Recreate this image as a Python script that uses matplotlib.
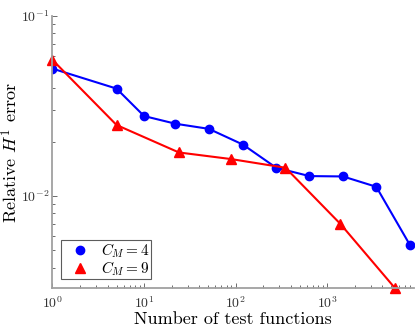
import matplotlib
matplotlib.use("Agg")
import matplotlib.pyplot as plt
from matplotlib.ticker import LogLocator, FuncFormatter, NullFormatter
import numpy as np

plt.rcParams['mathtext.fontset'] = 'cm'
plt.rcParams['axes.formatter.use_mathtext'] = True

# data
n_cm4 = [1, 5, 10, 22, 51, 120, 277, 638, 1486, 3430, 7980]
err_cm4 = [0.0510, 0.0395, 0.0278, 0.0252, 0.0236, 0.0193, 0.01435, 0.0129, 0.01284, 0.01125, 0.00535]

n_cm9 = [1, 5, 24, 88, 350, 1390, 5480]
err_cm9 = [0.0570, 0.0248, 0.01745, 0.01605, 0.01435, 0.00700, 0.00308]

labels = [r'$C_M = 4$', r'$C_M = 9$']

fig = plt.figure(figsize=(4.15, 3.26), dpi=100)
ax = fig.add_axes([0.1265, 0.1156, 0.8705, 0.8354])

ax.plot(n_cm4, err_cm4, '-o', color='#0000ff', lw=1.5, ms=6, label=labels[0])
ax.plot(n_cm9, err_cm9, '-^', color='#ff0000', lw=1.5, ms=6.5, label=labels[1], clip_on=False)
ax.set_xscale('log')
ax.set_yscale('log')
ax.set_xlim(1, 8800)
ax.set_ylim(3.07e-3, 0.1)

grey = '#a0a0a0'
for s in ['top', 'right']:
    ax.spines[s].set_visible(False)
for s in ['left', 'bottom']:
    ax.spines[s].set_color(grey)
    ax.spines[s].set_linewidth(1.3)

ax.xaxis.set_major_locator(LogLocator(base=10, numticks=10))
ax.yaxis.set_major_locator(LogLocator(base=10, numticks=10))
ax.xaxis.set_minor_locator(LogLocator(base=10, subs=np.arange(2, 10), numticks=20))
ax.yaxis.set_minor_locator(LogLocator(base=10, subs=np.arange(2, 10), numticks=20))
ax.xaxis.set_minor_formatter(NullFormatter())
ax.yaxis.set_minor_formatter(NullFormatter())

def fmt(v, pos):
    e = int(round(np.log10(v)))
    return r'$\mathsf{10}^{\mathsf{%d}}$' % e

ax.xaxis.set_major_formatter(FuncFormatter(fmt))
ax.yaxis.set_major_formatter(FuncFormatter(fmt))
ax.tick_params(which='both', direction='in', color='#555555', labelcolor='#333333', labelsize=10, width=0.6)
ax.tick_params(which='major', length=3.5)
ax.tick_params(which='minor', length=2)
ax.tick_params(axis='x', pad=5)
ax.tick_params(axis='y', pad=2.5)

ax.set_xlabel('Number of test functions', fontsize=13, family='cmr10')
ax.set_ylabel(r'Relative $H^1$ error', fontsize=13, family='cmr10')
ax.xaxis.set_label_coords(0.5, -0.087)
ax.yaxis.set_label_coords(-0.088, 0.5)

leg = ax.legend(loc='lower left', handlelength=2.3, numpoints=1, fontsize=11,
                frameon=True, fancybox=False, borderaxespad=0.0,
                handletextpad=0.2, borderpad=0.1, labelspacing=-0.08,
                bbox_to_anchor=(0.0235, 0.034))
for h in leg.legend_handles:
    h.set_linestyle('None')
leg.get_frame().set_edgecolor('#333333')
leg.get_frame().set_linewidth(0.8)

fig.savefig('out.png', dpi=100)
